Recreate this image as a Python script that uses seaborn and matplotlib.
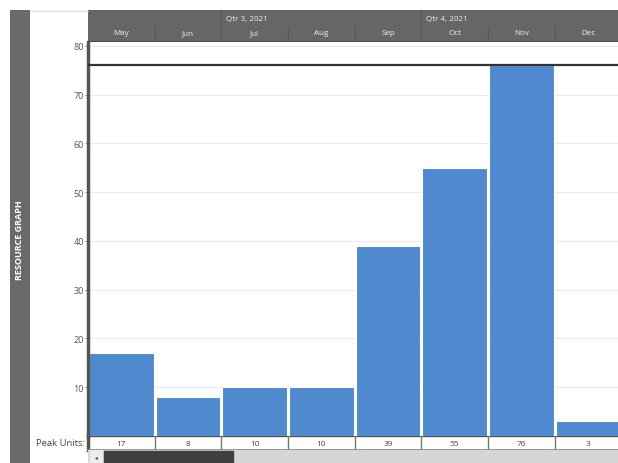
import matplotlib
matplotlib.use("Agg")
import matplotlib.pyplot as plt
import seaborn as sns
import pandas as pd

months = ["May", "Jun", "Jul", "Aug", "Sep", "Oct", "Nov", "Dec"]
peak_units = [17, 8, 10, 10, 39, 55, 76, 3]
quarters = ["Qtr 3, 2021", "Qtr 4, 2021"]
quarter_start_idx = [2, 5]
y_ticks = [10, 20, 30, 40, 50, 60, 70, 80]
max_units = 76

sns.set_theme(style="white")
plt.rcParams["font.family"] = ["Open Sans", "DejaVu Sans"]

W, H = 618, 464
fig = plt.figure(figsize=(W / 100, H / 100), dpi=100)

def ax_at(x0, y0, x1, y1):
    return fig.add_axes([x0 / W, 1 - y1 / H, (x1 - x0) / W, (y1 - y0) / H])

BLUE = "#4F89CE"
HDR = "#666666"
XL = (-0.5, 7.45)

# left gray bar
axl = ax_at(10, 11, 30, 464)
axl.set_facecolor("#6a6a6a")
axl.set_xticks([]); axl.set_yticks([])
for s in axl.spines.values():
    s.set_visible(False)
axl.text(0.5, 1 - (240 - 11) / (464 - 11), "RESOURCE GRAPH", rotation=90, color="white",
         fontsize=6.5, fontweight="bold", ha="center", va="center", transform=axl.transAxes)

# thin top border over the white label area
fig.add_artist(plt.Line2D([30 / W, 88 / W], [1 - 11.5 / H, 1 - 11.5 / H], color="#dddddd", lw=0.8))

# main plot
ax = ax_at(88, 43, 618, 437)
df = pd.DataFrame({"month": months, "units": peak_units})
sns.barplot(data=df, x="month", y="units", color=BLUE, saturation=1, width=0.97,
            edgecolor="white", linewidth=0.8, ax=ax)
ax.set_xlim(*XL)
ax.set_ylim(0, 80.8)
ax.set_yticks(y_ticks)
ax.set_yticklabels([str(t) for t in y_ticks], fontsize=6.5, color="#555555")
ax.set_xticks([])
ax.set_xlabel(""); ax.set_ylabel("")
ax.yaxis.grid(True, color="#ebebeb", linewidth=0.8)
ax.set_axisbelow(True)
ax.tick_params(axis="y", left=True, length=2, width=0.6, color="#777777", pad=1)
ax.axhline(max_units, color="#333333", linewidth=1.6, zorder=5)
for k in ["top", "right", "bottom"]:
    ax.spines[k].set_visible(False)
ax.spines["left"].set_color("#555555")
ax.spines["left"].set_linewidth(2.5)

# header
axh = ax_at(88, 11, 618, 43)
axh.set_facecolor(HDR)
axh.set_xlim(*XL); axh.set_ylim(0, 1)
axh.set_xticks([]); axh.set_yticks([])
for s in axh.spines.values():
    s.set_visible(False)
for i, m in enumerate(months):
    axh.text(i, 0.3, m, ha="center", va="center", color="#f0f0f0", fontsize=5.8)
    if i > 0:
        top = 1.0 if i in quarter_start_idx else 0.5
        axh.plot([i - 0.5, i - 0.5], [0, top], color="#585858", lw=0.8)
for q, si in zip(quarters, quarter_start_idx):
    axh.text(si - 0.5 + 0.07, 0.72, q, ha="left", va="center", color="#f0f0f0", fontsize=5.8)
axh.axhline(0, color="#4a4a4a", lw=1.2)

# peak units row
axp = ax_at(88, 437, 618, 451)
axp.set_xlim(*XL); axp.set_ylim(0, 1)
axp.set_xticks([]); axp.set_yticks([])
for k in ["top", "right"]:
    axp.spines[k].set_visible(False)
axp.spines["bottom"].set_color("#888888")
axp.spines["left"].set_color("#555555")
axp.spines["left"].set_linewidth(2.5)
axp.axhline(1, color="#555555", lw=1.0)
for i, v in enumerate(peak_units):
    axp.text(i, 0.45, str(v), ha="center", va="center", fontsize=6, color="#444444")
    if i > 0:
        axp.plot([i - 0.5, i - 0.5], [0, 1], color="#777777", lw=1.0)
fig.text(85 / W, 1 - 444 / H, "Peak Units:", ha="right", va="center", fontsize=6.8, color="#444444")

# scrollbar
axs = ax_at(88, 451, 618, 464)
axs.set_facecolor("#d6d6d6")
axs.set_xlim(88, 618); axs.set_ylim(0, 1)
axs.set_xticks([]); axs.set_yticks([])
for s in axs.spines.values():
    s.set_visible(False)
axs.add_patch(plt.Rectangle((90, 0), 12, 1, color="#ececec"))
axs.add_patch(plt.Rectangle((104, 0.05), 129, 0.9, color="#3f3f3f"))
axs.text(96, 0.5, "◂", ha="center", va="center", fontsize=4, color="#333333")

fig.savefig("out.png", dpi=100)
